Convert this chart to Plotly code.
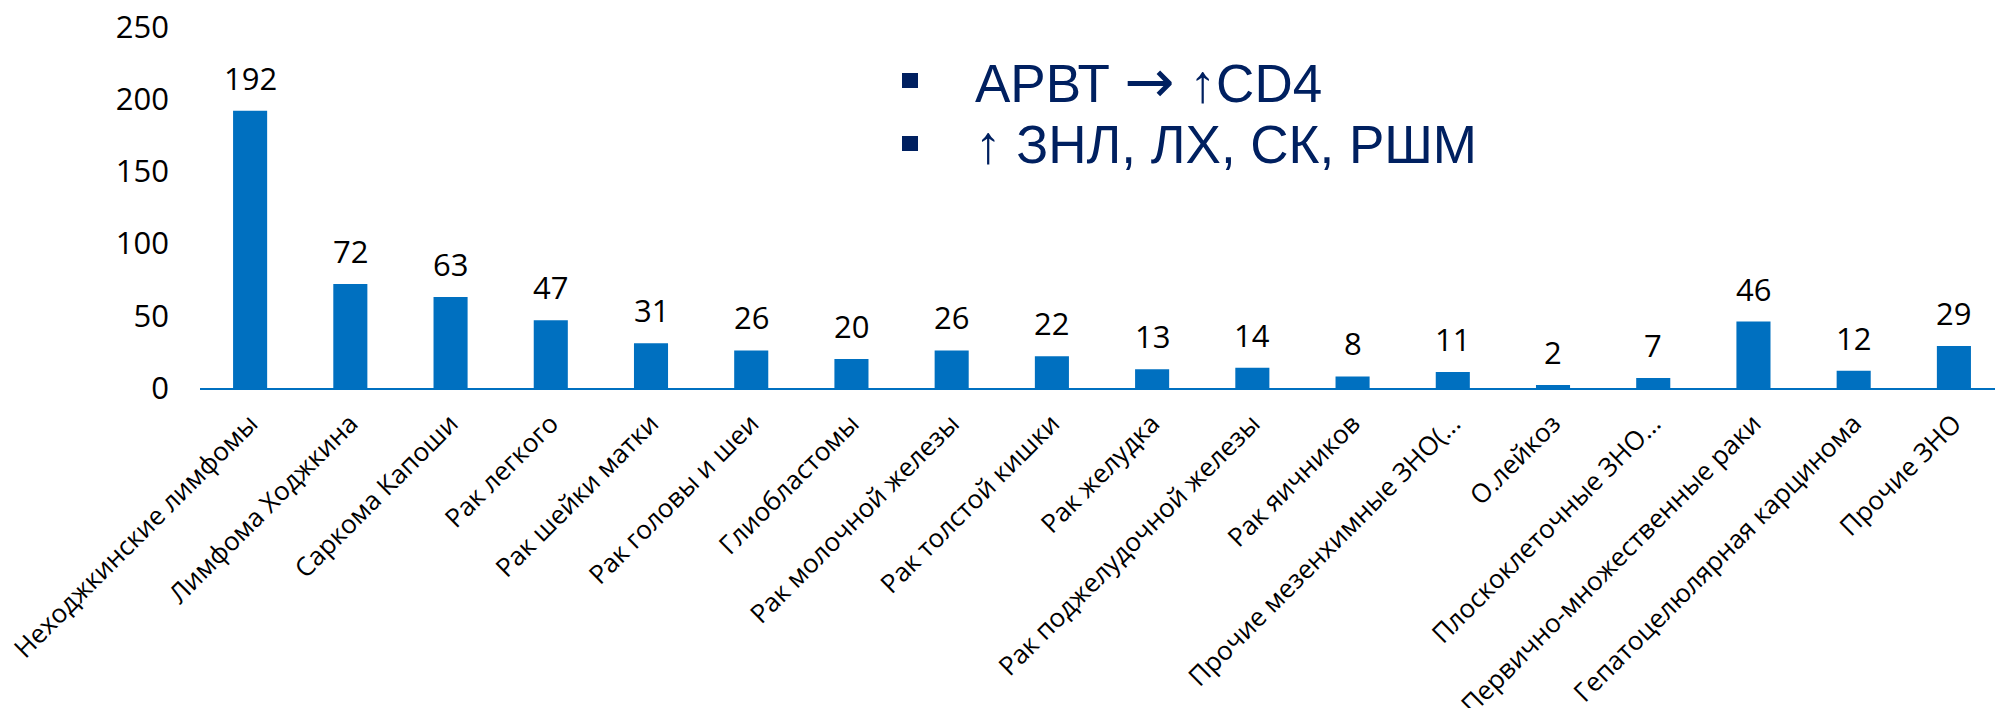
import plotly.graph_objects as go

categories = [
    "Неходжкинские лимфомы", "Лимфома Ходжкина", "Саркома Капоши", "Рак легкого",
    "Рак шейки матки", "Рак головы и шеи", "Глиобластомы", "Рак молочной железы",
    "Рак толстой кишки", "Рак желудка", "Рак поджелудочной железы", "Рак яичников",
    "Прочие мезенхимные ЗНО(...", "О.лейкоз", "Плоскоклеточные ЗНО...",
    "Первично-множественные раки", "Гепатоцелюлярная карцинома", "Прочие ЗНО",
]
values = [192, 72, 63, 47, 31, 26, 20, 26, 22, 13, 14, 8, 11, 2, 7, 46, 12, 29]
y_ticks = [0, 50, 100, 150, 200, 250]
notes = ["АРВТ → ↑CD4", "↑ ЗНЛ, ЛХ, СК, РШМ"]

W, H = 1995, 708
ML, MR, MT, MB = 200, 0, 27, 320
PW, PH = W - ML - MR, H - MT - MB

def px(x):
    return (x - ML) / PW

def py(y):
    return (H - MB - y) / PH

BAR = "#0070C0"
NAVY = "#002060"

fig = go.Figure()
fig.add_trace(go.Bar(
    x=list(range(len(categories))), y=values,
    marker=dict(color=BAR, line=dict(width=0)),
    width=0.34, hoverinfo="skip",
))

annotations = []
for i, v in enumerate(values):
    annotations.append(dict(
        x=i, y=v, xref="x", yref="y", text=str(v), showarrow=False,
        yanchor="bottom", yshift=10,
        font=dict(family="Open Sans", size=31, color="#000000"),
    ))

line_y = [81, 144]
for t, yy in zip(notes, line_y):
    t = t.replace("→", '<span style="font-family:DejaVu Sans;font-size:60px">→</span>')
    annotations.append(dict(
        x=px(973), y=py(yy), xref="paper", yref="paper", text=t,
        showarrow=False, xanchor="left", yanchor="middle",
        font=dict(family="Liberation Sans, Arial", size=53, color=NAVY),
    ))

shapes = []
for (y0, y1) in [(73, 88), (136, 151)]:
    shapes.append(dict(
        type="rect", xref="paper", yref="paper",
        x0=px(902), x1=px(918), y0=py(y1), y1=py(y0),
        fillcolor=NAVY, line=dict(width=0),
    ))

fig.update_layout(
    width=W, height=H,
    margin=dict(l=ML, r=MR, t=MT, b=MB, pad=0, autoexpand=False),
    paper_bgcolor="white", plot_bgcolor="white",
    showlegend=False,
    annotations=annotations, shapes=shapes,
    xaxis=dict(
        range=[-0.5, 17.41], automargin=False,
        tickmode="array", tickvals=list(range(len(categories))), ticktext=categories,
        tickangle=-45,
        tickfont=dict(family="Open Sans", size=26, color="#000000"),
        showline=True, linecolor=BAR, linewidth=2,
        showgrid=False, zeroline=False, ticks="",
        ticklabelstandoff=8,
    ),
    yaxis=dict(
        range=[0, 250], automargin=False,
        tickmode="array", tickvals=y_ticks,
        tickfont=dict(family="Open Sans", size=31, color="#000000"),
        showgrid=False, zeroline=False, showline=False, ticks="",
        ticklabelstandoff=30,
    ),
)

fig.write_html("out.html")
